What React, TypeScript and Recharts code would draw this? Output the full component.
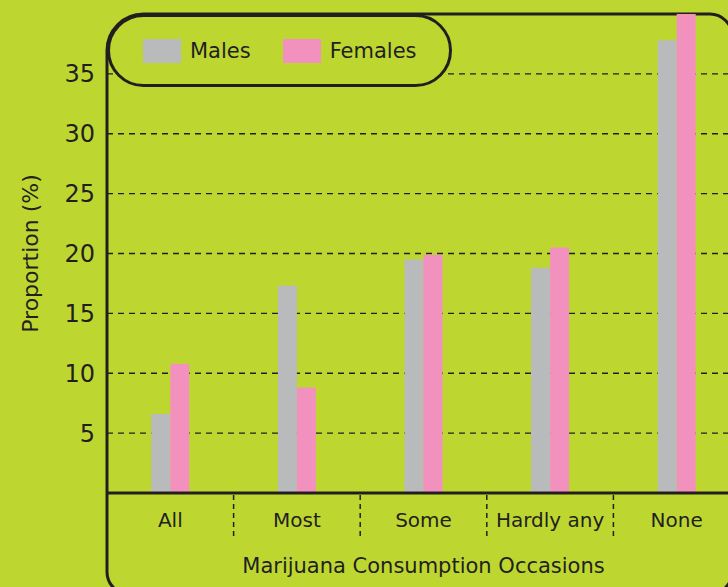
import { BarChart, Bar, XAxis, YAxis, CartesianGrid, Legend, Label, Customized } from "recharts";

const BG = "#bed730";
const INK = "#231f20";
const MALE = "#b9babc";
const FEMALE = "#f391be";
const FONT = "'DejaVu Sans', sans-serif";

const CATEGORIES = ["All", "Most", "Some", "Hardly any", "None"];
const SERIES = ["Males", "Females"];
const MALES = [6.6, 17.3, 19.5, 18.8, 37.8];
const FEMALES = [10.8, 8.8, 19.9, 20.5, 40];
const Y_TICKS = [5, 10, 15, 20, 25, 30, 35];

const data = CATEGORIES.map((name, i) => ({ name, Males: MALES[i], Females: FEMALES[i] }));

const W = 728;
const H = 587;
const Y_AXIS_W = 107;
const MARGIN = { top: 14, right: -12, bottom: 9, left: 0 };
const PLOT_W = W - Y_AXIS_W - MARGIN.left - MARGIN.right;
const PILL_W = 345;
const PILL_H = 73;

function CategoryTick(props: any) {
  const { x, y, payload, index } = props;
  const band = PLOT_W / CATEGORIES.length;
  return (
    <g>
      <text x={x} y={y + 34} textAnchor="middle" fill={INK} fontSize={20} fontFamily={FONT}>
        {payload.value}
      </text>
      {index < CATEGORIES.length - 1 && (
        <line
          x1={x + band / 2}
          x2={x + band / 2}
          y1={y + 2}
          y2={y + 45}
          stroke={INK}
          strokeWidth={1.5}
          strokeDasharray="5 4"
        />
      )}
    </g>
  );
}

function LegendPill(props: any) {
  const items = [...(props.payload || [])].sort(
    (a: any, b: any) => SERIES.indexOf(a.value) - SERIES.indexOf(b.value)
  );
  return (
    <div
      style={{
        boxSizing: "border-box",
        width: PILL_W,
        height: PILL_H,
        border: `3px solid ${INK}`,
        borderRadius: PILL_H / 2,
        background: BG,
        display: "flex",
        alignItems: "center",
        paddingLeft: 33,
        fontFamily: FONT,
        fontSize: 21,
        color: INK,
      }}
    >
      {items.map((it: any) => (
        <div key={it.value} style={{ display: "flex", alignItems: "center", marginRight: 32 }}>
          <span style={{ width: 38, height: 24, background: it.color, marginRight: 9, display: "inline-block" }} />
          <span>{it.value}</span>
        </div>
      ))}
    </div>
  );
}

// outer rounded frame; its top-left corner follows the legend pill
function Frame() {
  const x0 = Y_AXIS_W;
  const y0 = MARGIN.top;
  const x1 = 732;
  const y1 = 594;
  const r = 22;
  const rt = PILL_H / 2;
  const d = `M ${x0} ${y0 + rt} A ${rt} ${rt} 0 0 1 ${x0 + rt} ${y0} L ${x1 - r} ${y0} A ${r} ${r} 0 0 1 ${x1} ${y0 + r} L ${x1} ${y1 - r} A ${r} ${r} 0 0 1 ${x1 - r} ${y1} L ${x0 + r} ${y1} A ${r} ${r} 0 0 1 ${x0} ${y1 - r} Z`;
  return <path d={d} fill="none" stroke={INK} strokeWidth={3} />;
}

export default function App() {
  return (
    <div style={{ position: "absolute", left: 0, top: 0, width: W, height: H, background: BG, fontFamily: FONT }}>
      <BarChart width={W} height={H} data={data} margin={MARGIN} barCategoryGap="35%" barGap={0}>
        <CartesianGrid
          vertical={false}
          horizontalValues={Y_TICKS}
          stroke={INK}
          strokeWidth={1.3}
          strokeDasharray="6 5"
        />
        <XAxis
          dataKey="name"
          height={85}
          tickLine={false}
          tickSize={0}
          tickMargin={0}
          axisLine={{ stroke: INK, strokeWidth: 3 }}
          tick={<CategoryTick />}
          interval={0}
        >
          <Label
            value="Marijuana Consumption Occasions"
            position="insideBottom"
            offset={5}
            fill={INK}
            fontSize={21}
            fontFamily={FONT}
          />
        </XAxis>
        <YAxis
          width={Y_AXIS_W}
          domain={[0, 40]}
          ticks={Y_TICKS}
          allowDataOverflow
          tickLine={false}
          tickSize={0}
          tickMargin={12}
          axisLine={false}
          tick={{ fill: INK, fontSize: 24, fontFamily: FONT }}
        >
          <Label
            content={({ viewBox }: any) => {
              const cy = viewBox.y + viewBox.height / 2;
              return (
                <text
                  x={38}
                  y={cy}
                  transform={`rotate(-90, 38, ${cy})`}
                  textAnchor="middle"
                  fill={INK}
                  fontSize={22}
                  fontFamily={FONT}
                >
                  Proportion (%)
                </text>
              );
            }}
          />
        </YAxis>
        <Bar dataKey="Males" fill={MALE} isAnimationActive={false} />
        <Bar dataKey="Females" fill={FEMALE} isAnimationActive={false} />
        <Legend
          layout="vertical"
          align="center"
          verticalAlign="middle"
          content={<LegendPill />}
          wrapperStyle={{ left: Y_AXIS_W, top: MARGIN.top, width: PILL_W, height: PILL_H }}
        />
        <Customized component={Frame} />
      </BarChart>
    </div>
  );
}
